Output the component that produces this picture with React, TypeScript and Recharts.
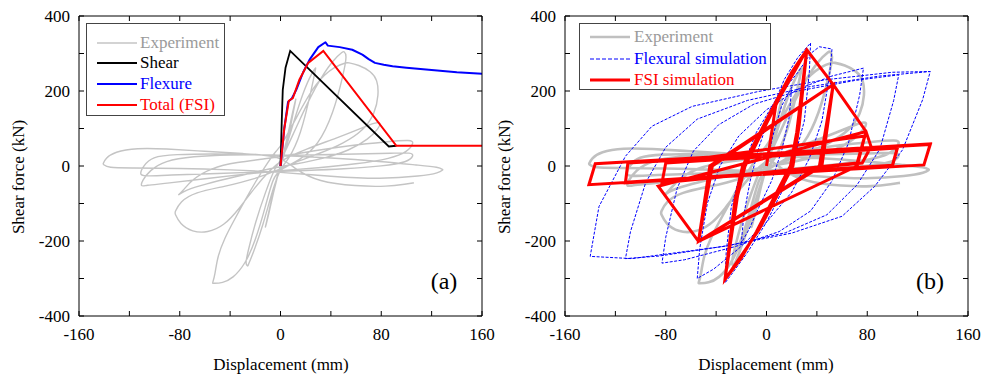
import React from "react";
import { LineChart, Line, XAxis, YAxis } from "recharts";

// ---- data (mm, kN) ----
const xTicks = [-160, -120, -80, -40, 0, 40, 80, 120, 160];
const yTicks = [-400, -300, -200, -100, 0, 100, 200, 300, 400];

const experiment: [number, number][] = [
  [0, 0], [5, 70], [10, 150], [13, 190], [11, 160], [5, 50], [0, 0], [-5, -60], [-10, -140], [-13, -175], [-10, -135], [-4, -40], [0, 0],
  [8, 90], [18, 200], [26, 255], [28, 262], [28, 262], [25, 210], [16, 80], [6, 15], [0, -5],
  [-6, -60], [-14, -160], [-22, -235], [-26, -267], [-26, -267], [-28, -262], [-26, -230], [-20, -150], [-12, -70], [-4, 0], [0, 10],
  [12, 100], [28, 215], [42, 285], [50, 306], [50, 306], [53, 298], [50, 245], [42, 140], [30, 55], [15, 15], [0, -8],
  [-6, -30], [-12, -110], [-20, -200], [-28, -262], [-38, -300], [-46, -312], [-54, -313], [-54, -313], [-52, -290], [-50, -240], [-44, -190], [-38, -152], [-28, -90], [-19, -37], [-10, 10], [-3, 43], [0, 50],
  [12, 125], [28, 225], [44, 268], [53, 276], [53, 276], [62, 270], [72, 252], [77, 230], [78, 190], [75, 140], [66, 95], [50, 60], [30, 32], [10, 8], [0, -8],
  [-20, -35], [-45, -55], [-68, -70], [-80, -95], [-84, -125], [-84, -125], [-80, -155], [-70, -176], [-58, -178], [-45, -160], [-33, -115], [-20, -55], [-8, -10], [0, 15],
  [20, 45], [45, 75], [65, 102], [75, 116], [80, 117], [78, 100], [70, 72], [55, 42], [35, 20], [10, 4], [-10, -8],
  [-35, -28], [-60, -48], [-76, -65], [-81, -77], [-81, -77], [-78, -68], [-70, -35], [-55, -5], [-35, 10], [-10, 20], [0, 25],
  [25, 40], [55, 55], [85, 65], [104, 70], [106, 62], [101, 38], [88, 20], [60, 5], [30, -5], [0, -12],
  [-30, -22], [-60, -34], [-90, -46], [-108, -52], [-111, -55], [-110, -40], [-104, -12], [-92, 14], [-70, 26], [-40, 30], [-10, 30], [0, 28],
  [30, 30], [60, 32], [90, 34], [104, 36], [106, 28], [101, 10], [82, 0], [50, -8], [20, -12], [-10, -15],
  [-50, -20], [-90, -24], [-109, -28], [-112, -22], [-109, 0], [-102, 25], [-85, 31], [-50, 33], [-20, 30], [0, 28],
  [40, 22], [80, 12], [110, 2], [126, -3], [129, -10], [129, -10], [126, -18], [112, -27], [80, -35], [40, -28], [0, -16],
  [-40, -10], [-80, -6], [-120, -5], [-137, -5], [-141, 5], [-141, 5], [-139, 20], [-132, 38], [-114, 48], [-92, 46], [-60, 39], [-30, 33], [0, 28],
  [12, -10], [30, -42], [60, -54], [85, -55], [100, -48], [106, -45], [106, -45],
];

const shear: [number, number][] = [[0, 0], [1, 120], [1.8, 203], [4, 262], [7.7, 307], [86, 52], [92, 54]];
const flexure: [number, number][] = [
  [0, 0], [3, 100], [6, 171], [9, 180], [12.5, 203], [18, 250], [23, 283], [30, 317], [35.7, 330], [37.6, 321],
  [47, 317], [57, 310], [65, 297], [70, 285], [75, 275], [82, 270], [89, 266], [100, 262], [120, 256], [140, 250], [160, 246],
];
const totalFsi: [number, number][] = [[0, 0], [3, 100], [6.6, 174], [9.8, 181], [15, 230], [22, 275], [34, 307], [92, 54], [160, 54]];

const flexuralSim: [number, number][] = [
  [0, 0], [5, 80], [12, 160], [20, 210],
  [18, 130], [12, 40], [4, -40], [-6, -110], [-14, -170], [-20, -205],
  [-18, -130], [-13, -40], [-6, 50], [3, 140], [14, 230], [25, 290], [35, 328],
  [34, 250], [30, 120], [22, 20], [12, -70], [0, -150], [-15, -230], [-28, -290], [-33, -312],
  [-32, -230], [-28, -110], [-20, -10], [-8, 90], [8, 180], [25, 250], [35, 300], [42, 318], [52, 312],
  [50, 240], [44, 120], [34, 20], [20, -70], [0, -150], [-22, -220], [-42, -275], [-55, -300],
  [-53, -220], [-47, -100], [-37, 0], [-22, 80], [0, 150], [25, 205], [52, 240], [77, 261],
  [74, 190], [65, 60], [52, -40], [35, -120], [10, -175], [-25, -215], [-65, -250], [-83, -259],
  [-80, -190], [-71, -60], [-58, 40], [-38, 110], [-10, 165], [25, 200], [70, 228], [105, 243],
  [101, 175], [90, 45], [72, -50], [48, -130], [15, -178], [-30, -212], [-85, -240], [-112, -247],
  [-108, -175], [-96, -45], [-80, 50], [-55, 125], [-15, 175], [35, 212], [90, 240], [130, 252],
  [124, 177], [108, 43], [86, -54], [60, -134], [20, -179], [-33, -214], [-107, -247], [-140, -241],
  [-133, -108], [-112, 26], [-91, 106], [-59, 159], [-6, 199], [47, 230], [100, 250], [130, 252],
];

const fsiSim: [number, number][] = [
  [0, 0], [8, 175], [20, 250], [32, 310],
  [24, 90], [19, 0], [-8, -175], [-20, -245], [-33, -303],
  [-25, -90], [-19, 0], [8, 175], [20, 250], [32, 310],
  [26, 110], [21, 0], [-6, -170], [-33, -303],
  [-23, -80], [-17, 0], [10, 180], [32, 310],
  [53, 217], [44, 0], [-54, -201],
  [-45, 0], [53, 217], [42, 0], [-54, -201], [-43, 0], [53, 217], [79, 92], [72, 0], [-54, -201], [-86, -54],
  [79, 92], [83, 52], [76, 8], [-83, -45], [-80, 8], [78, 80], [72, 8], [-83, -45], [-80, 8],
  [104, 48], [100, 0], [-112, -45], [-110, 8], [104, 50], [100, 2], [-112, -43], [-110, 10],
  [130, 59], [125, 3], [-141, -50], [-136, 6], [130, 57], [125, 3],
];

const pts = (a: [number, number][]) => a.map(([x, y]) => ({ x, y }));

const FONT = "'Liberation Serif', 'Times New Roman', serif";

function BottomTick(props: any) {
  const { x, y, payload } = props;
  const v = payload.value;
  return (
    <g>
      <line x1={x} x2={x} y1={y} y2={y - 5} stroke="#000" />
      {v % 80 === 0 && (
        <text x={x} y={y + 24} textAnchor="middle" fontSize={17} fontFamily={FONT} fill="#000">{v}</text>
      )}
    </g>
  );
}
function TopTick(props: any) {
  const { x, y } = props;
  return <line x1={x} x2={x} y1={y} y2={y + 5} stroke="#000" />;
}
function LeftTick(props: any) {
  const { x, y, payload } = props;
  const v = payload.value;
  return (
    <g>
      <line x1={x} x2={x + 5} y1={y} y2={y} stroke="#000" />
      {v % 200 === 0 && (
        <text x={x - 9} y={y + 6} textAnchor="end" fontSize={17} fontFamily={FONT} fill="#000">{v}</text>
      )}
    </g>
  );
}
function RightTick(props: any) {
  const { x, y } = props;
  return <line x1={x} x2={x - 5} y1={y} y2={y} stroke="#000" />;
}

function Frame() {
  return [
    <XAxis key="xb" xAxisId="b" dataKey="x" type="number" domain={[-160, 160]} ticks={xTicks} interval={0}
      height={63} tickSize={0} tickMargin={0} tickLine={false} tick={<BottomTick />} stroke="#000" allowDataOverflow />,
    <XAxis key="xt" xAxisId="t" orientation="top" dataKey="x" type="number" domain={[-160, 160]} ticks={xTicks} interval={0}
      height={1} tickSize={0} tickMargin={0} tickLine={false} tick={<TopTick />} stroke="#000" allowDataOverflow />,
    <YAxis key="yl" yAxisId="l" type="number" domain={[-400, 400]} ticks={yTicks} interval={0}
      width={55} tickSize={0} tickMargin={0} tickLine={false} tick={<LeftTick />} stroke="#000" allowDataOverflow />,
    <YAxis key="yr" yAxisId="r" orientation="right" type="number" domain={[-400, 400]} ticks={yTicks} interval={0}
      width={1} tickSize={0} tickMargin={0} tickLine={false} tick={<RightTick />} stroke="#000" allowDataOverflow />,
  ];
}

const txt: React.CSSProperties = { position: "absolute", fontFamily: FONT, fontSize: 17, whiteSpace: "nowrap", lineHeight: "17px" };

function LegendRow({ top, left, lineLeft, color, width, dash, label, textColor }: any) {
  return (
    <>
      <svg style={{ position: "absolute", left: lineLeft, top: top - 3 }} width={40} height={6}>
        <line x1={0} x2={40} y1={3} y2={3} stroke={color} strokeWidth={width} strokeDasharray={dash} />
      </svg>
      <div style={{ ...txt, left, top: top - 9, color: textColor }}>{label}</div>
    </>
  );
}

export default function App() {
  return (
    <div style={{ position: "absolute", left: 0, top: 0, width: 984, height: 379, background: "#fff", overflow: "hidden" }}>
      {/* panel (a) */}
      <div style={{ position: "absolute", left: 0, top: 0 }}>
        <LineChart width={520} height={379} margin={{ top: 15, right: 37, bottom: 0, left: 24 }}>
          {Frame()}
          <Line xAxisId="b" yAxisId="l" data={pts(experiment)} dataKey="y" type="basis" stroke="#c4c4c4" strokeWidth={1.4}
            strokeLinejoin="round" dot={false} isAnimationActive={false} />
          <Line xAxisId="b" yAxisId="l" data={pts(shear)} dataKey="y" type="linear" stroke="#000" strokeWidth={1.8}
            dot={false} isAnimationActive={false} />
          <Line xAxisId="b" yAxisId="l" data={pts(flexure)} dataKey="y" type="linear" stroke="#0000ff" strokeWidth={2}
            strokeLinejoin="round" dot={false} isAnimationActive={false} />
          <Line xAxisId="b" yAxisId="l" data={pts(totalFsi)} dataKey="y" type="linear" stroke="#ff0000" strokeWidth={2}
            dot={false} isAnimationActive={false} />
        </LineChart>
      </div>
      {/* panel (b) */}
      <div style={{ position: "absolute", left: 492, top: 0 }}>
        <LineChart width={492} height={379} margin={{ top: 15, right: 15, bottom: 0, left: 18 }}>
          {Frame()}
          <Line xAxisId="b" yAxisId="l" data={pts(experiment)} dataKey="y" type="basis" stroke="#c0c0c0" strokeWidth={2.6}
            strokeLinejoin="round" dot={false} isAnimationActive={false} />
          <Line xAxisId="b" yAxisId="l" data={pts(flexuralSim)} dataKey="y" type="linear" stroke="#0000ff" strokeWidth={1}
            strokeDasharray="3 1.5" strokeLinejoin="round" dot={false} isAnimationActive={false} />
          <Line xAxisId="b" yAxisId="l" data={pts(fsiSim)} dataKey="y" type="linear" stroke="#ff0000" strokeWidth={3}
            dot={false} isAnimationActive={false} />
        </LineChart>
      </div>

      {/* axis titles */}
      <div style={{ ...txt, left: 281, top: 356, transform: "translateX(-50%)" }}>Displacement (mm)</div>
      <div style={{ ...txt, left: 766, top: 356, transform: "translateX(-50%)" }}>Displacement (mm)</div>
      <div style={{ ...txt, left: 18, top: 177, transform: "translate(-50%, -50%) rotate(-90deg)" }}>Shear force (kN)</div>
      <div style={{ ...txt, left: 504, top: 177, transform: "translate(-50%, -50%) rotate(-90deg)" }}>Shear force (kN)</div>

      {/* panel labels */}
      <div style={{ ...txt, fontSize: 24, lineHeight: "24px", left: 444, top: 281, transform: "translate(-50%, -50%)" }}>(a)</div>
      <div style={{ ...txt, fontSize: 24, lineHeight: "24px", left: 930, top: 281, transform: "translate(-50%, -50%)" }}>(b)</div>

      {/* legend (a) */}
      <div style={{ position: "absolute", left: 86, top: 23, width: 137, height: 91, border: "1px solid #444", background: "#fff" }} />
      <LegendRow top={43} left={140} lineLeft={97} color="#c4c4c4" width={1.5} label="Experiment" textColor="#9a9a9a" />
      <LegendRow top={63} left={140} lineLeft={97} color="#000" width={2} label="Shear" textColor="#000" />
      <LegendRow top={84} left={140} lineLeft={97} color="#0000ff" width={2} label="Flexure" textColor="#0000ff" />
      <LegendRow top={105} left={140} lineLeft={97} color="#ff0000" width={2} label="Total (FSI)" textColor="#ff0000" />

      {/* legend (b) */}
      <div style={{ position: "absolute", left: 579, top: 23, width: 190, height: 65, border: "1px solid #444", background: "#fff" }} />
      <LegendRow top={37} left={634} lineLeft={590} color="#c0c0c0" width={2.6} label="Experiment" textColor="#9a9a9a" />
      <LegendRow top={59} left={634} lineLeft={590} color="#0000ff" width={1} dash="4 2" label="Flexural simulation" textColor="#0000ff" />
      <LegendRow top={80} left={634} lineLeft={590} color="#ff0000" width={3} label="FSI simulation" textColor="#ff0000" />
    </div>
  );
}
